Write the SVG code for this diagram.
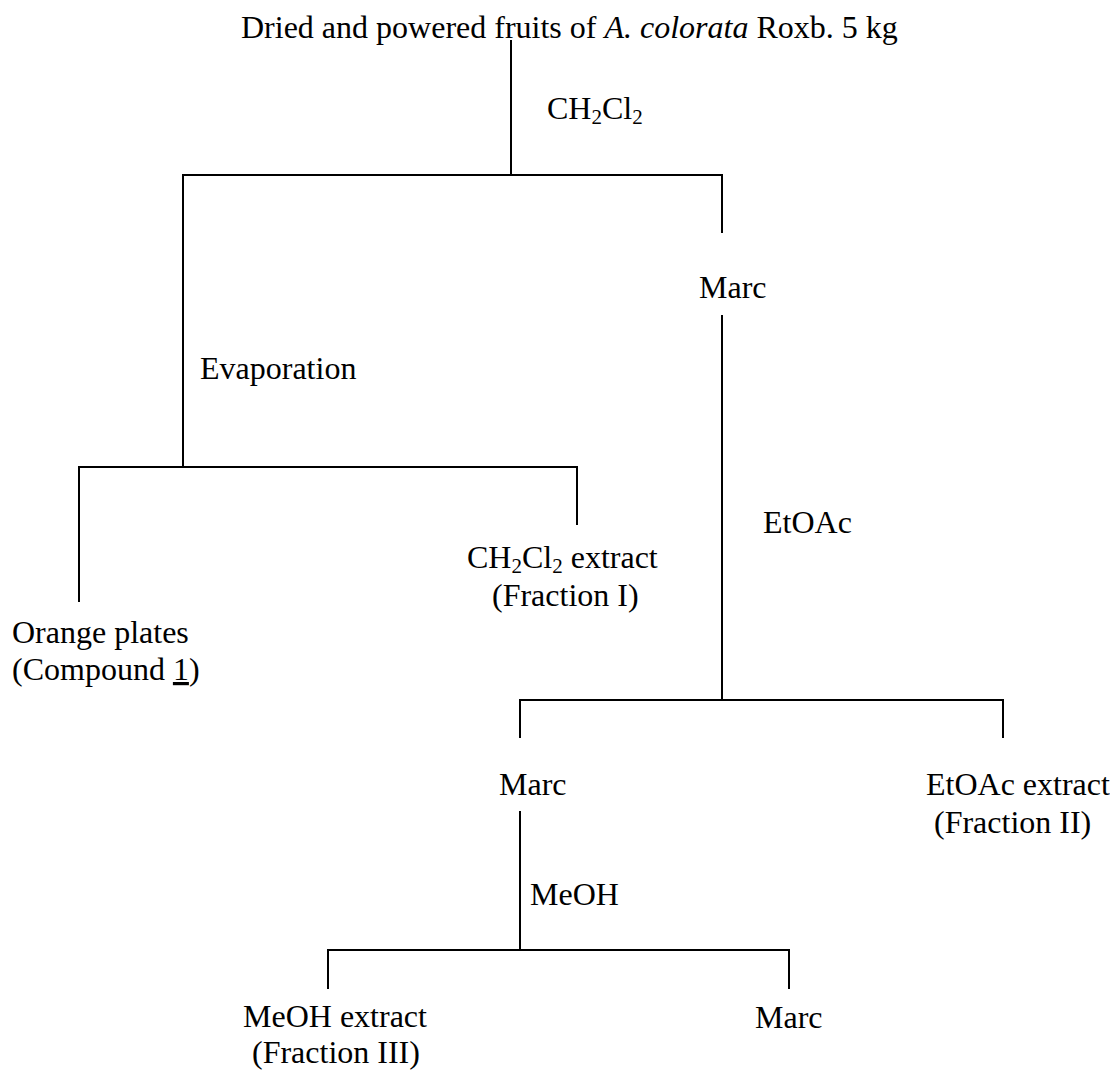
<svg xmlns="http://www.w3.org/2000/svg" width="1110" height="1070" viewBox="0 0 1110 1070">
<style>
text{font-family:"Liberation Serif","Times New Roman",serif;font-size:32px;fill:#000}
.sub{font-size:21px}
.it{font-style:italic}
.conn line{stroke:#000;stroke-width:2;stroke-linecap:square}
</style>
<rect width="1110" height="1070" fill="#fff"/>
<g id="connectors" class="conn">
<line x1="511" y1="41" x2="511" y2="175"/>
<line x1="183" y1="175" x2="722" y2="175"/>
<line x1="183" y1="175" x2="183" y2="467"/>
<line x1="722" y1="175" x2="722" y2="232"/>
<line x1="79" y1="467" x2="577" y2="467"/>
<line x1="79" y1="467" x2="79" y2="601"/>
<line x1="577" y1="467" x2="577" y2="524"/>
<line x1="722" y1="316" x2="722" y2="700"/>
<line x1="520" y1="700" x2="1003" y2="700"/>
<line x1="520" y1="700" x2="520" y2="737"/>
<line x1="1003" y1="700" x2="1003" y2="737"/>
<line x1="520" y1="812" x2="520" y2="950"/>
<line x1="328" y1="950" x2="789" y2="950"/>
<line x1="328" y1="950" x2="328" y2="988"/>
<line x1="789" y1="950" x2="789" y2="988"/>
</g>
<g id="start"><text x="241" y="38">Dried and powered fruits of <tspan class="it">A. colorata</tspan> Roxb. 5 kg</text></g>
<g id="label-ch2cl2"><text x="547" y="119">CH<tspan class="sub" dy="5">2</tspan><tspan dy="-5">Cl</tspan><tspan class="sub" dy="5">2</tspan></text></g>
<g id="marc1"><text x="699" y="298">Marc</text></g>
<g id="label-evaporation"><text x="200" y="379">Evaporation</text></g>
<g id="label-etoac"><text x="763" y="533">EtOAc</text></g>
<g id="fraction1"><text x="467" y="568">CH<tspan class="sub" dy="5">2</tspan><tspan dy="-5">Cl</tspan><tspan class="sub" dy="5">2</tspan><tspan dy="-5"> extract</tspan></text><text x="492" y="606">(Fraction I)</text></g>
<g id="compound1"><text x="12" y="643">Orange plates</text><text x="12" y="680">(Compound <tspan text-decoration="underline">1</tspan>)</text></g>
<g id="marc2"><text x="499" y="795">Marc</text></g>
<g id="fraction2"><text x="926" y="795">EtOAc extract</text><text x="934" y="833">(Fraction II)</text></g>
<g id="label-meoh"><text x="530" y="905">MeOH</text></g>
<g id="fraction3"><text x="243" y="1027">MeOH extract</text><text x="252" y="1063">(Fraction III)</text></g>
<g id="marc3"><text x="755" y="1028">Marc</text></g>
</svg>
